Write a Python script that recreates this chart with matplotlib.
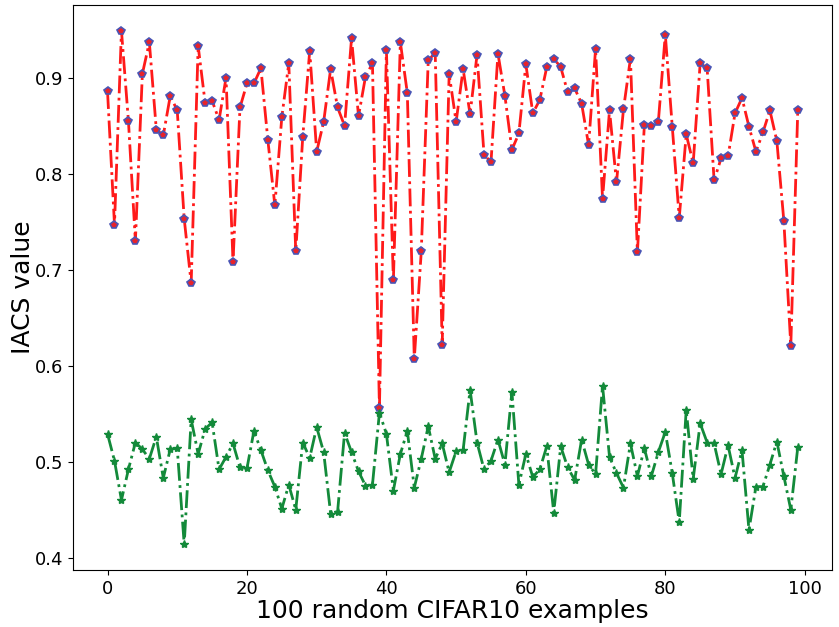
import matplotlib
matplotlib.use("Agg")
import matplotlib.pyplot as plt
import numpy as np

red_vals = [0.886, 0.747, 0.949, 0.855, 0.730, 0.904, 0.937, 0.846, 0.840, 0.881,
            0.866, 0.753, 0.686, 0.933, 0.874, 0.876, 0.856, 0.900, 0.708, 0.869,
            0.894, 0.894, 0.910, 0.835, 0.767, 0.859, 0.915, 0.719, 0.838, 0.928,
            0.823, 0.854, 0.909, 0.869, 0.850, 0.941, 0.860, 0.901, 0.915, 0.556,
            0.929, 0.689, 0.937, 0.884, 0.607, 0.719, 0.918, 0.926, 0.622, 0.904,
            0.854, 0.909, 0.862, 0.924, 0.820, 0.812, 0.925, 0.881, 0.825, 0.842,
            0.914, 0.863, 0.877, 0.911, 0.920, 0.911, 0.885, 0.889, 0.873, 0.830,
            0.930, 0.774, 0.866, 0.791, 0.867, 0.920, 0.718, 0.851, 0.850, 0.854,
            0.945, 0.849, 0.754, 0.841, 0.811, 0.915, 0.910, 0.793, 0.816, 0.818,
            0.863, 0.879, 0.849, 0.823, 0.843, 0.866, 0.834, 0.751, 0.621, 0.866]

green_vals = [0.529, 0.501, 0.460, 0.492, 0.520, 0.513, 0.503, 0.526, 0.483, 0.513,
              0.514, 0.414, 0.544, 0.508, 0.534, 0.541, 0.492, 0.505, 0.519, 0.494,
              0.493, 0.532, 0.512, 0.491, 0.474, 0.451, 0.476, 0.450, 0.520, 0.504,
              0.536, 0.510, 0.446, 0.448, 0.530, 0.510, 0.490, 0.475, 0.476, 0.551,
              0.529, 0.470, 0.508, 0.532, 0.473, 0.503, 0.537, 0.503, 0.519, 0.489,
              0.511, 0.512, 0.575, 0.520, 0.492, 0.501, 0.523, 0.497, 0.573, 0.476,
              0.508, 0.484, 0.492, 0.516, 0.447, 0.516, 0.494, 0.481, 0.523, 0.497,
              0.487, 0.579, 0.505, 0.488, 0.473, 0.519, 0.485, 0.514, 0.485, 0.510,
              0.531, 0.488, 0.437, 0.554, 0.482, 0.540, 0.520, 0.519, 0.487, 0.517,
              0.483, 0.512, 0.429, 0.474, 0.474, 0.497, 0.521, 0.485, 0.450, 0.515]

x_label = "100 random CIFAR10 examples"
y_label = "IACS value"

x = np.arange(len(red_vals))

fig = plt.figure(figsize=(8.39, 6.27), dpi=100)
ax = fig.add_axes([0.087, 0.091, 0.905, 0.901])

ax.plot(x, red_vals, linestyle='-.', color='#ff1a1a', linewidth=2,
        marker='p', markersize=6, markerfacecolor='#e8232a',
        markeredgecolor='#4a55b5', markeredgewidth=1.2)
ax.plot(x, green_vals, linestyle='-.', color='#138a3a', linewidth=2,
        marker='*', markersize=6, markerfacecolor='#138a3a',
        markeredgecolor='#138a3a')

ax.set_xlabel(x_label, fontsize=18, labelpad=1)
ax.set_ylabel(y_label, fontsize=18, labelpad=0)
ax.tick_params(labelsize=13)

fig.savefig("out.png", dpi=100)
